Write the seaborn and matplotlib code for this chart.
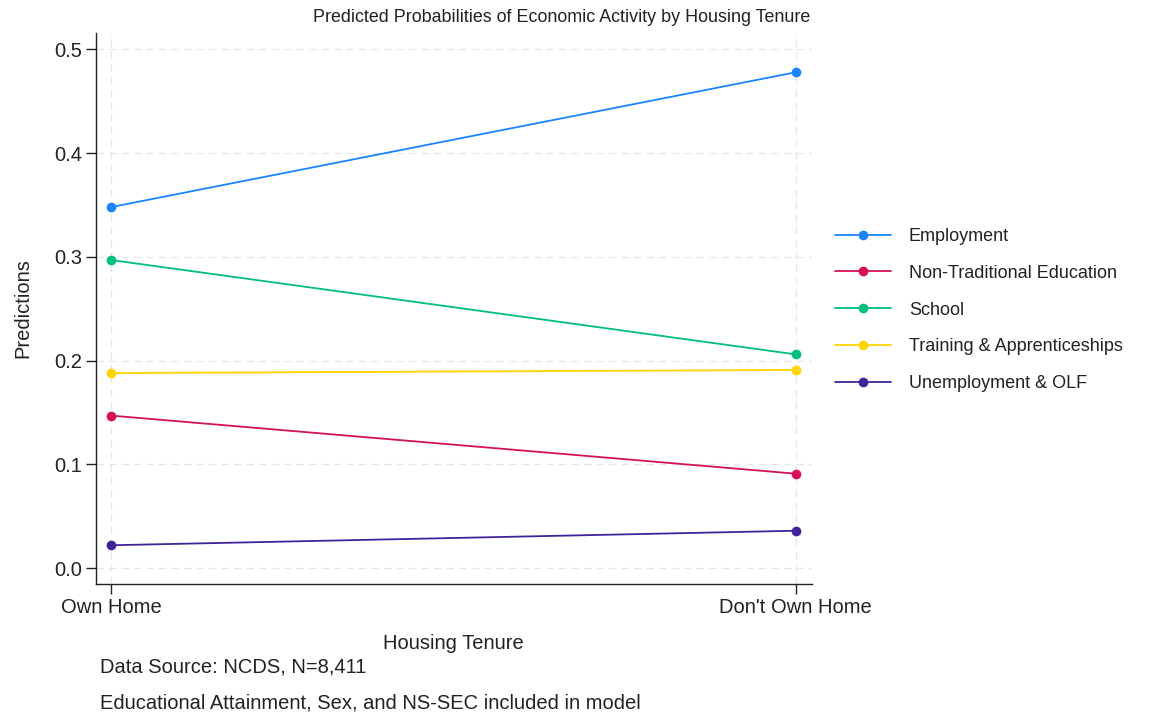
import matplotlib
matplotlib.use("Agg")
import matplotlib.pyplot as plt
import seaborn as sns
import pandas as pd

tenure = ["Own Home", "Don't Own Home"]
outcomes = ["Employment", "Non-Traditional Education", "School",
            "Training & Apprenticeships", "Unemployment & OLF"]
employment = [0.348, 0.478]
non_traditional = [0.147, 0.091]
school = [0.297, 0.206]
training = [0.188, 0.191]
unemployment = [0.022, 0.036]
colors = ["#1a85ff", "#d41159", "#00bf7f", "#ffd400", "#402399"]

series = [employment, non_traditional, school, training, unemployment]
df = pd.DataFrame({
    "Housing Tenure": tenure * len(outcomes),
    "Predictions": [v for s in series for v in s],
    "Outcome": [o for o in outcomes for _ in tenure],
})

sns.set_theme(style="white")
plt.rcParams["font.family"] = ["Liberation Sans", "DejaVu Sans"]

fig = plt.figure(figsize=(11.71, 7.14), dpi=100)
ax = fig.add_axes([0.082, 0.182, 0.611, 0.772])

sns.lineplot(data=df, x="Housing Tenure", y="Predictions", hue="Outcome",
             hue_order=outcomes, palette=colors, marker="o", markersize=7,
             markeredgewidth=0, linewidth=1.3, sort=False, ax=ax)

ax.set_xlim(-0.022, 1.023)
ax.set_ylim(-0.0154, 0.516)
ax.set_yticks([0.0, 0.1, 0.2, 0.3, 0.4, 0.5])
ax.set_yticklabels(["0.0", "0.1", "0.2", "0.3", "0.4", "0.5"])
ax.grid(True, color="#e6e6e6", linestyle=(0, (6, 4)), linewidth=0.9)
ax.set_axisbelow(True)

for side in ["top", "right"]:
    ax.spines[side].set_visible(False)
for side in ["left", "bottom"]:
    ax.spines[side].set_color("#222222")
    ax.spines[side].set_linewidth(1.0)
ax.tick_params(axis="both", which="major", direction="out", length=7,
               width=1.0, color="#222222", labelsize=14.5, labelcolor="#222222",
               left=True, bottom=True, pad=3)

ax.set_xlabel("Housing Tenure", fontsize=14.5, color="#222222", labelpad=12)
ax.set_ylabel("Predictions", fontsize=14.5, color="#222222", labelpad=15.5)

leg = ax.legend(loc="center left", bbox_to_anchor=(1.01, 0.497), frameon=False,
                fontsize=13, handlelength=3.1, handletextpad=1.0,
                labelspacing=1.1)
for t in leg.get_texts():
    t.set_color("#222222")

fig.text(0.48, 0.976, "Predicted Probabilities of Economic Activity by Housing Tenure",
         ha="center", va="center", fontsize=12.9, color="#222222")
fig.text(0.085, 0.066, "Data Source: NCDS, N=8,411", ha="left", va="center",
         fontsize=14.5, color="#222222")
fig.text(0.085, 0.016, "Educational Attainment, Sex, and NS-SEC included in model",
         ha="left", va="center", fontsize=14.5, color="#222222")

fig.savefig("out.png", dpi=100, facecolor="white")
